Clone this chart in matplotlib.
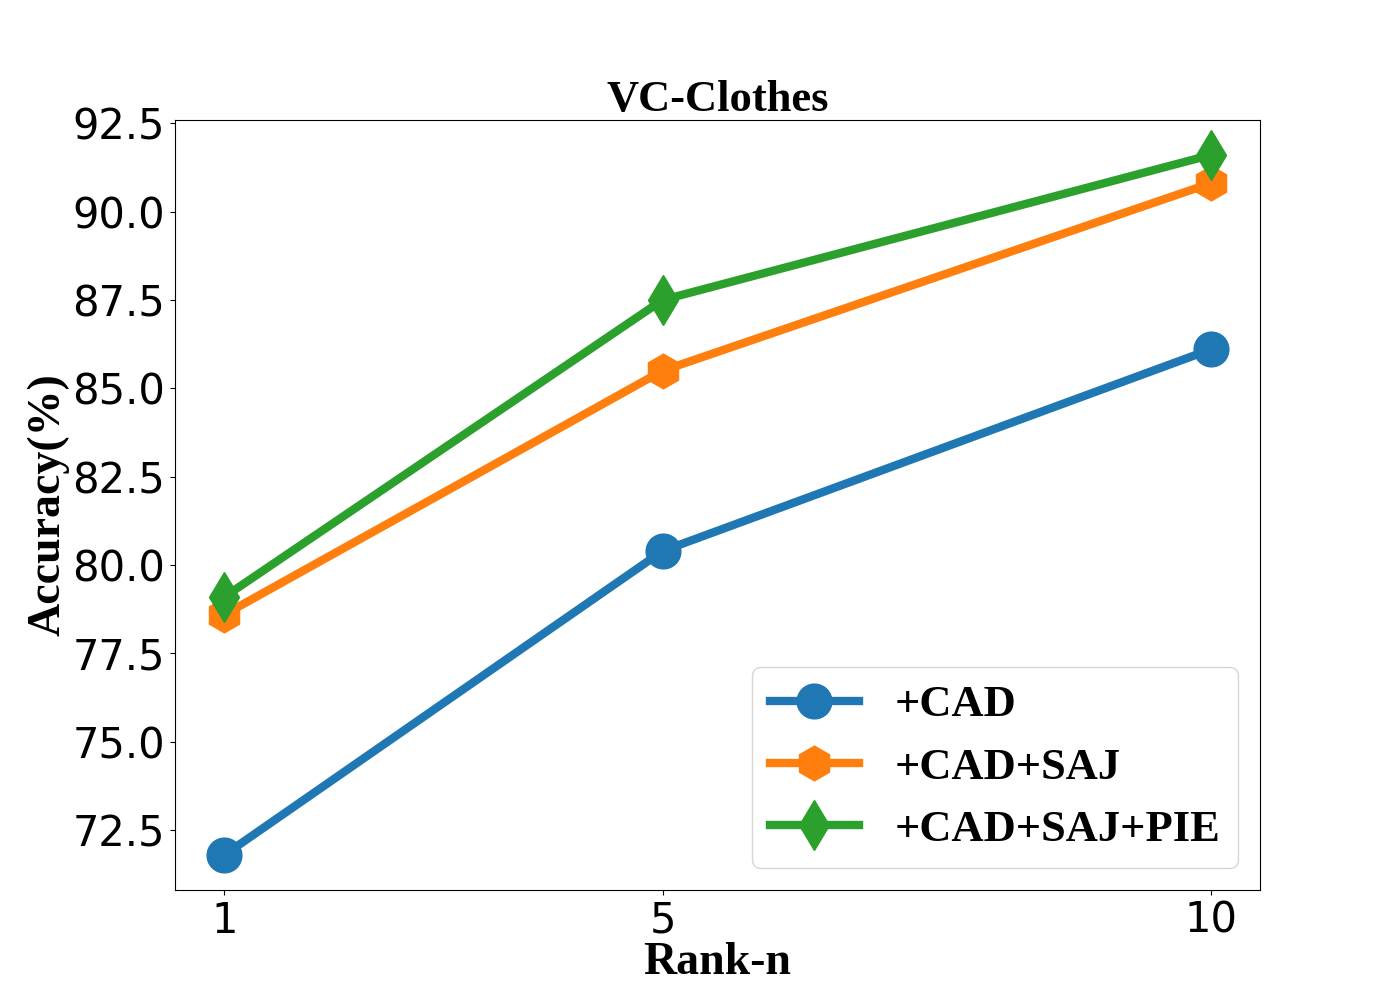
import matplotlib
matplotlib.use("Agg")
import matplotlib.pyplot as plt

ranks = [1, 5, 10]
cad = [71.8, 80.4, 86.1]
cad_saj = [78.6, 85.5, 90.8]
cad_saj_pie = [79.1, 87.5, 91.6]

title_font = {"family": "Liberation Serif", "weight": "bold", "size": 32}
label_font = {"family": "Liberation Serif", "weight": "bold", "size": 33}

fig, ax = plt.subplots(figsize=(14, 10), dpi=100)
ax.plot(ranks, cad, marker="o", markersize=25, linewidth=6, label="+CAD")
ax.plot(ranks, cad_saj, marker="h", markersize=25, linewidth=6, label="+CAD+SAJ")
ax.plot(ranks, cad_saj_pie, marker="d", markersize=25, linewidth=6, label="+CAD+SAJ+PIE")

ax.set_xticks(ranks)
ax.tick_params(labelsize=30)
ax.set_title("VC-Clothes", fontdict=title_font)
ax.set_xlabel("Rank-n", fontdict=label_font, labelpad=0)
ax.set_ylabel("Accuracy(%)", fontdict=label_font, labelpad=2)
ax.legend(loc="lower right", prop=title_font, handlelength=2.0)

fig.savefig("out.png")
